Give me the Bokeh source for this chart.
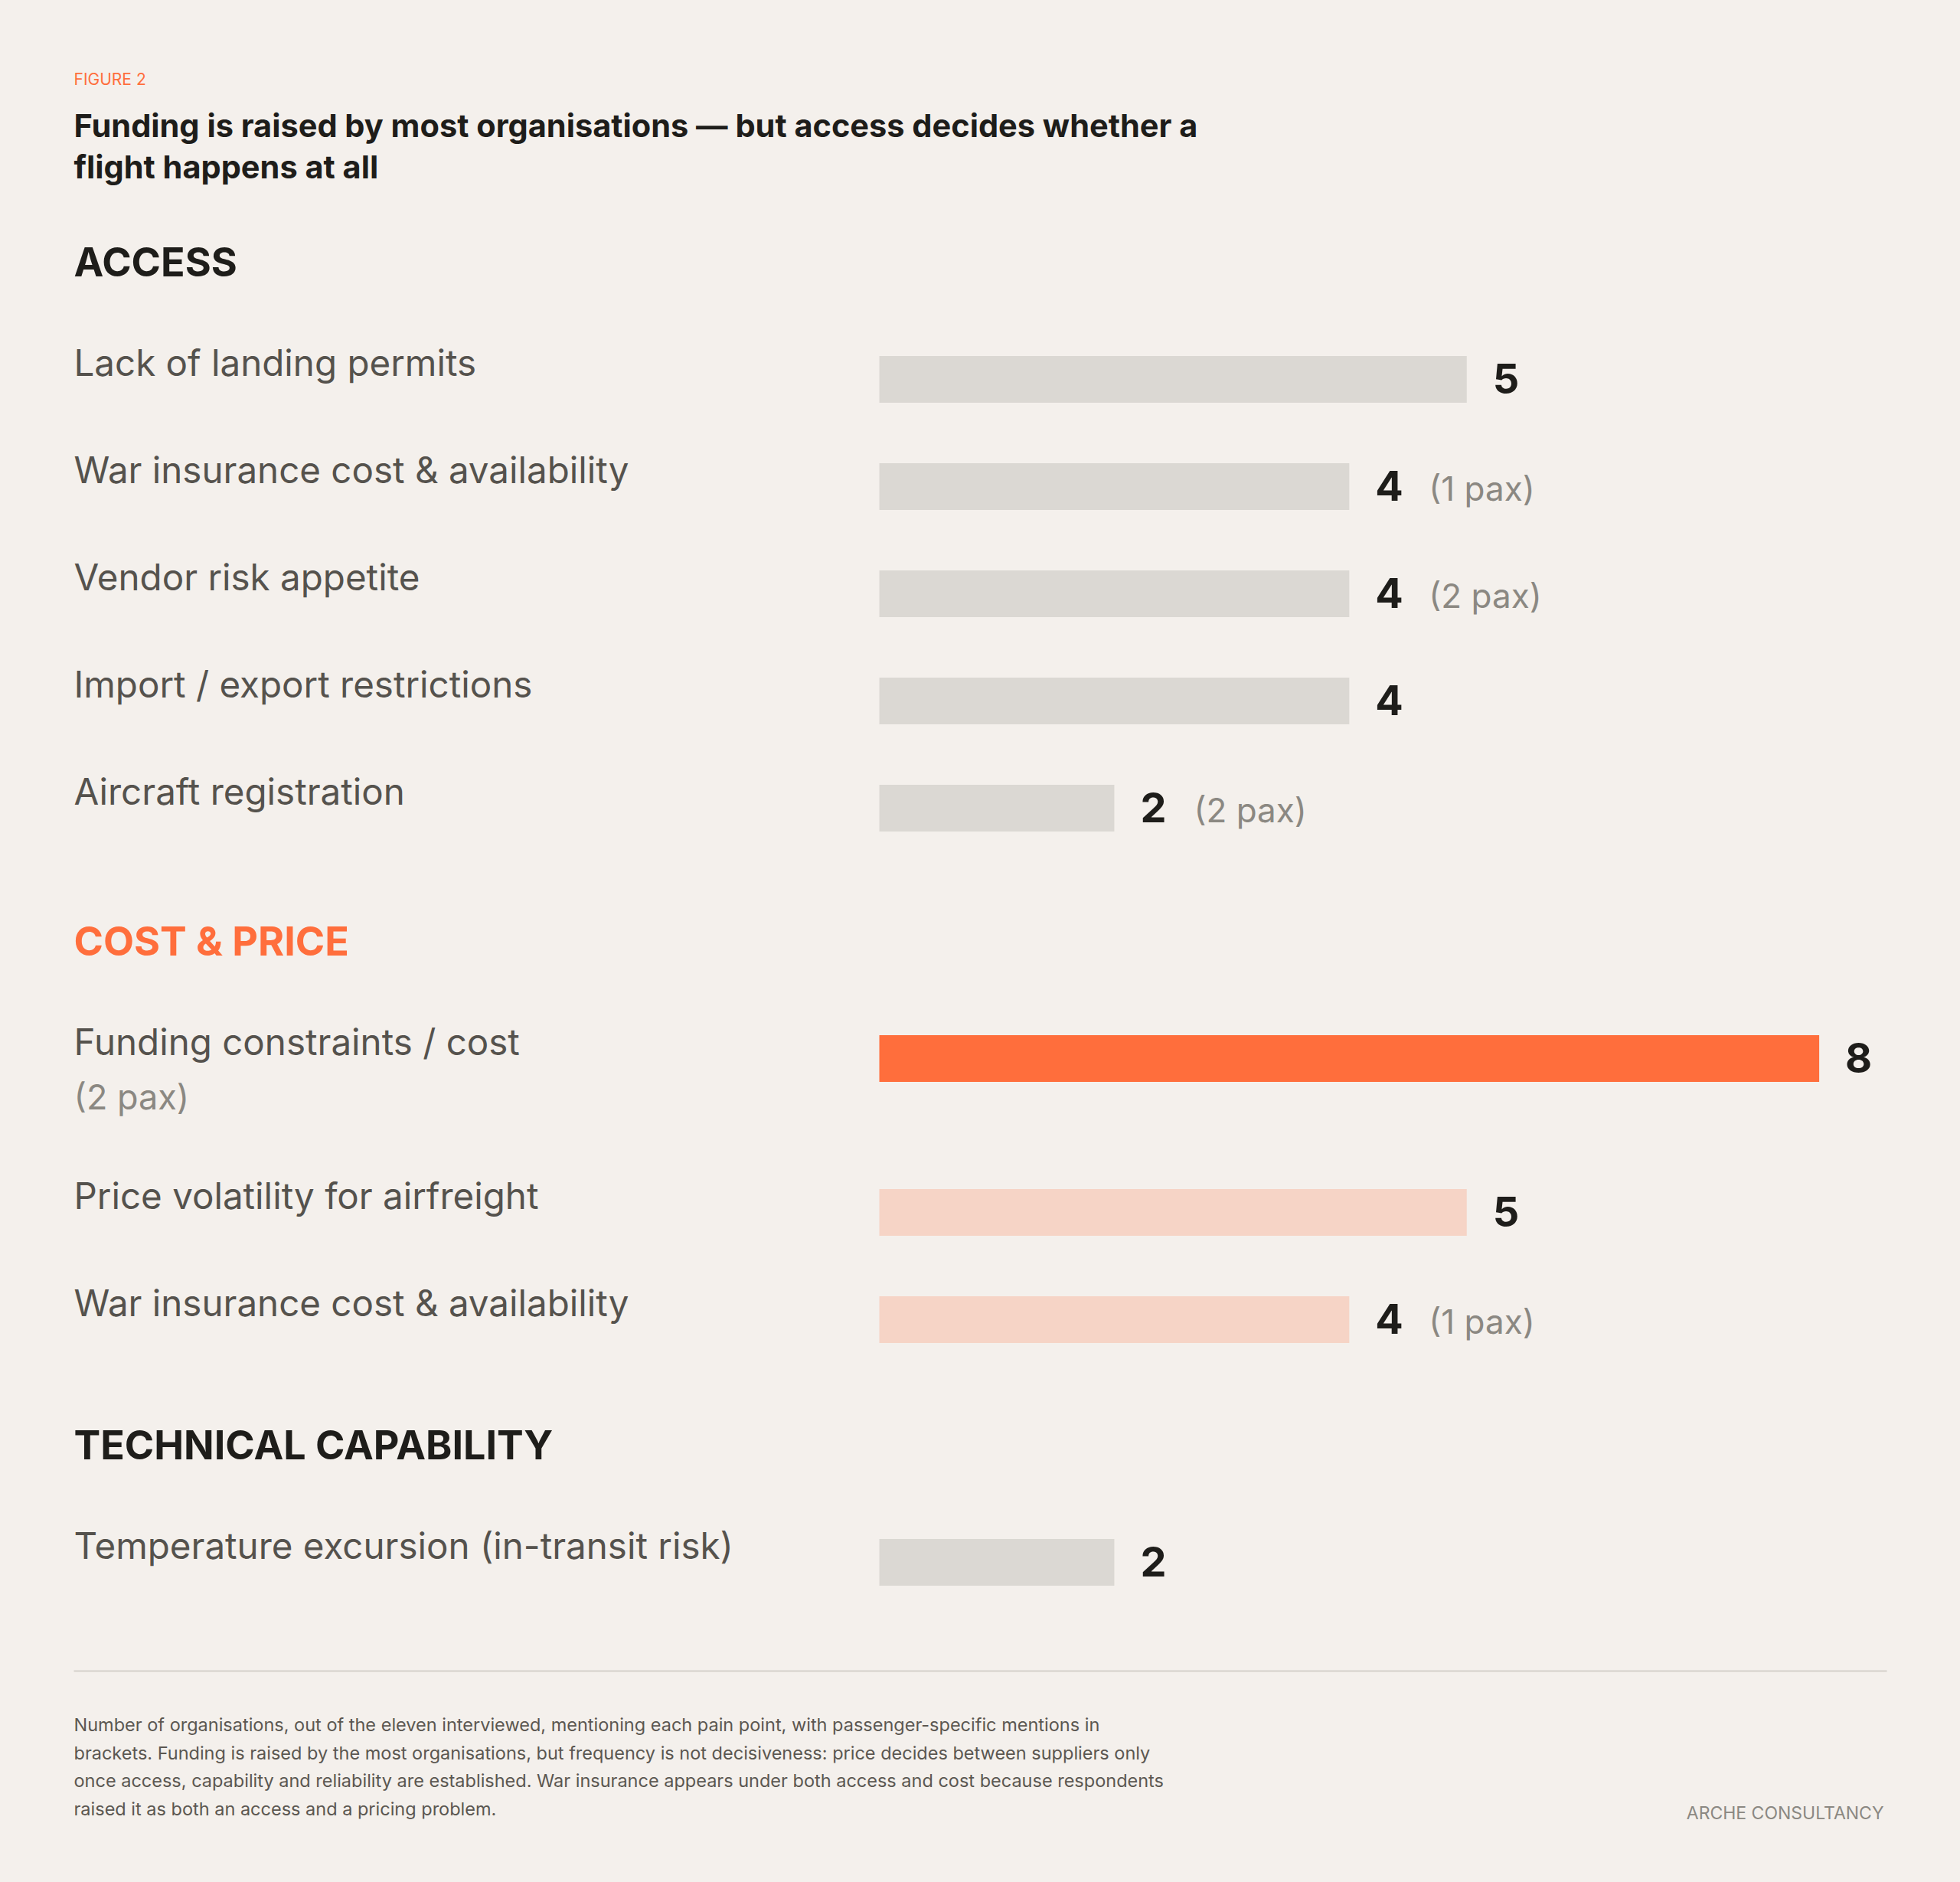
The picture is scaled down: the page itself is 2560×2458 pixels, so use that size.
from bokeh.plotting import figure
from bokeh.models import Range1d, ColumnDataSource
from bokeh.core.properties import value
from bokeh.embed import file_html
from bokeh.resources import INLINE

# ---------------- data ----------------
figure_tag = "FIGURE 2"
title_lines = ["Funding is raised by most organisations \u2014 but access decides whether a",
               "flight happens at all"]
section_names = ["ACCESS", "COST & PRICE", "TECHNICAL CAPABILITY"]

access_items = ["Lack of landing permits", "War insurance cost & availability",
                "Vendor risk appetite", "Import / export restrictions", "Aircraft registration"]
access_counts = [5, 4, 4, 4, 2]
access_pax = [None, 1, 2, None, 2]

cost_items = ["Funding constraints / cost", "Price volatility for airfreight",
              "War insurance cost & availability"]
cost_counts = [8, 5, 4]
cost_pax = [2, None, 1]

tech_items = ["Temperature excursion (in-transit risk)"]
tech_counts = [2]
tech_pax = [None]

highlight_item = "Funding constraints / cost"

footnote_lines = [
    "Number of organisations, out of the eleven interviewed, mentioning each pain point, with passenger-specific mentions in",
    "brackets. Funding is raised by the most organisations, but frequency is not decisiveness: price decides between suppliers only",
    "once access, capability and reliability are established. War insurance appears under both access and cost because respondents",
    "raised it as both an access and a pricing problem.",
]
source_text = "ARCHE CONSULTANCY"

# ---------------- style / layout ----------------
BG = "#f4f0ec"
GRAY_BAR = "#dbd8d3"
ORANGE = "#ff6e3c"
LIGHT_OR = "#f6d4c6"
DARK = "#1e1d1a"
LABEL_C = "#55524d"
MUTED = "#8b8882"
FOOT_C = "#5b5751"
RULE_C = "#d4d0ca"
FONT = value("Inter")

W, H = 2544, 2442
X0_PX = 1148.0      # pixel where value 0 sits
UNIT_PX = 153.45    # pixels per organisation
LEFT_PX = 96.0
RIGHT_PX = 2464.0
K = 0.36            # baseline correction (fraction of font size)


def xd(px):
    return (px - X0_PX) / UNIT_PX


def yb(baseline, size):
    return baseline - K * size


p = figure(width=W, height=H, output_backend="svg", toolbar_location=None,
           x_range=Range1d(xd(0), xd(W)), y_range=Range1d(H, 0),
           x_axis_type=None, y_axis_type=None, min_border=0)
p.grid.visible = False
p.outline_line_color = None
p.background_fill_color = BG
p.border_fill_color = BG

VAL_FS, PAX_FS, LAB_FS, SUB_FS, HEAD_FS = 54, 44, 47.5, 45, 52

sections = [
    (section_names[0], access_items, access_counts, access_pax, GRAY_BAR, DARK),
    (section_names[1], cost_items, cost_counts, cost_pax, LIGHT_OR, ORANGE),
    (section_names[2], tech_items, tech_counts, tech_pax, GRAY_BAR, DARK),
]
section_gaps = [190, 180]

bars = dict(y=[], v=[], color=[])
vals = dict(x=[], y=[], t=[])
paxs = dict(x=[], y=[], t=[])
labels = dict(x=[], y=[], t=[])
sub_labels = dict(x=[], y=[], t=[])
heads = dict(x=[], y=[], t=[], c=[])

y = 358.0
for si, (name, items, counts, pax, col, hcol) in enumerate(sections):
    heads["x"].append(xd(LEFT_PX)); heads["y"].append(yb(y + 3, HEAD_FS))
    heads["t"].append(name); heads["c"].append(hcol)
    yc = y + 137
    last = yc
    for it, c, px in zip(items, counts, pax):
        hl = it == highlight_item
        bars["y"].append(yc); bars["v"].append(c); bars["color"].append(ORANGE if hl else col)
        vals["x"].append(c); vals["y"].append(yb(yc + 18, VAL_FS)); vals["t"].append(str(c))
        labels["x"].append(xd(LEFT_PX)); labels["y"].append(yb(yc - 5, LAB_FS)); labels["t"].append(it)
        extra = 0
        if px is not None:
            if hl:
                sub_labels["x"].append(xd(LEFT_PX)); sub_labels["y"].append(yb(yc + 66, SUB_FS))
                sub_labels["t"].append(f"({px} pax)")
                extra = 61
            else:
                paxs["x"].append(c); paxs["y"].append(yb(yc + 18, PAX_FS)); paxs["t"].append(f"({px} pax)")
        last = yc
        yc += 140 + extra
    if si < len(section_gaps):
        y = last + section_gaps[si]

p.hbar(y="y", left=0, right="v", height=61, color="color", line_color=None,
       source=ColumnDataSource(bars))

p.text(x="x", y="y", text="t", source=ColumnDataSource(vals), x_offset=34,
       text_font=FONT, text_font_style="bold", text_font_size=f"{VAL_FS}px",
       text_color=DARK, text_baseline="alphabetic", text_align="left")
p.text(x="x", y="y", text="t", source=ColumnDataSource(paxs), x_offset=104,
       text_font=FONT, text_font_size=f"{PAX_FS}px",
       text_color=MUTED, text_baseline="alphabetic", text_align="left")
p.text(x="x", y="y", text="t", source=ColumnDataSource(labels),
       text_font=FONT, text_font_size=f"{LAB_FS}px",
       text_color=LABEL_C, text_baseline="alphabetic", text_align="left")
p.text(x="x", y="y", text="t", source=ColumnDataSource(sub_labels),
       text_font=FONT, text_font_size=f"{SUB_FS}px",
       text_color=MUTED, text_baseline="alphabetic", text_align="left")
p.text(x="x", y="y", text="t", text_color="c", source=ColumnDataSource(heads),
       text_font=FONT, text_font_style="bold", text_font_size=f"{HEAD_FS}px",
       text_baseline="alphabetic", text_align="left")

# figure tag and title
TAG_FS, TITLE_FS = 21, 41.5
p.text(x=[xd(LEFT_PX)], y=[yb(111, TAG_FS)], text=[figure_tag], text_font=FONT,
       text_font_size=f"{TAG_FS}px", text_color=ORANGE, text_baseline="alphabetic")
p.text(x=[xd(LEFT_PX)] * 2, y=[yb(178, TITLE_FS), yb(232, TITLE_FS)], text=title_lines,
       text_font=FONT, text_font_style="bold", text_font_size=f"{TITLE_FS}px",
       text_color=DARK, text_baseline="alphabetic")

# rule + footnote
FOOT_FS, SRC_FS = 23.5, 23
p.segment(x0=[xd(LEFT_PX)], x1=[xd(RIGHT_PX)], y0=[2182], y1=[2182],
          line_color=RULE_C, line_width=2)
p.text(x=[xd(LEFT_PX)] * 4, y=[yb(b, FOOT_FS) for b in (2260, 2297, 2333, 2370)],
       text=footnote_lines, text_font=FONT, text_font_size=f"{FOOT_FS}px",
       text_color=FOOT_C, text_baseline="alphabetic")
p.text(x=[xd(RIGHT_PX - 4)], y=[yb(2376, SRC_FS)], text=[source_text], text_font=FONT,
       text_font_size=f"{SRC_FS}px", text_color=MUTED, text_baseline="alphabetic",
       text_align="right")

html = file_html(p, INLINE)
html = html.replace("<head>", "<head><style>html,body{background:%s;}</style>" % BG, 1)
open("out.html", "w").write(html)
